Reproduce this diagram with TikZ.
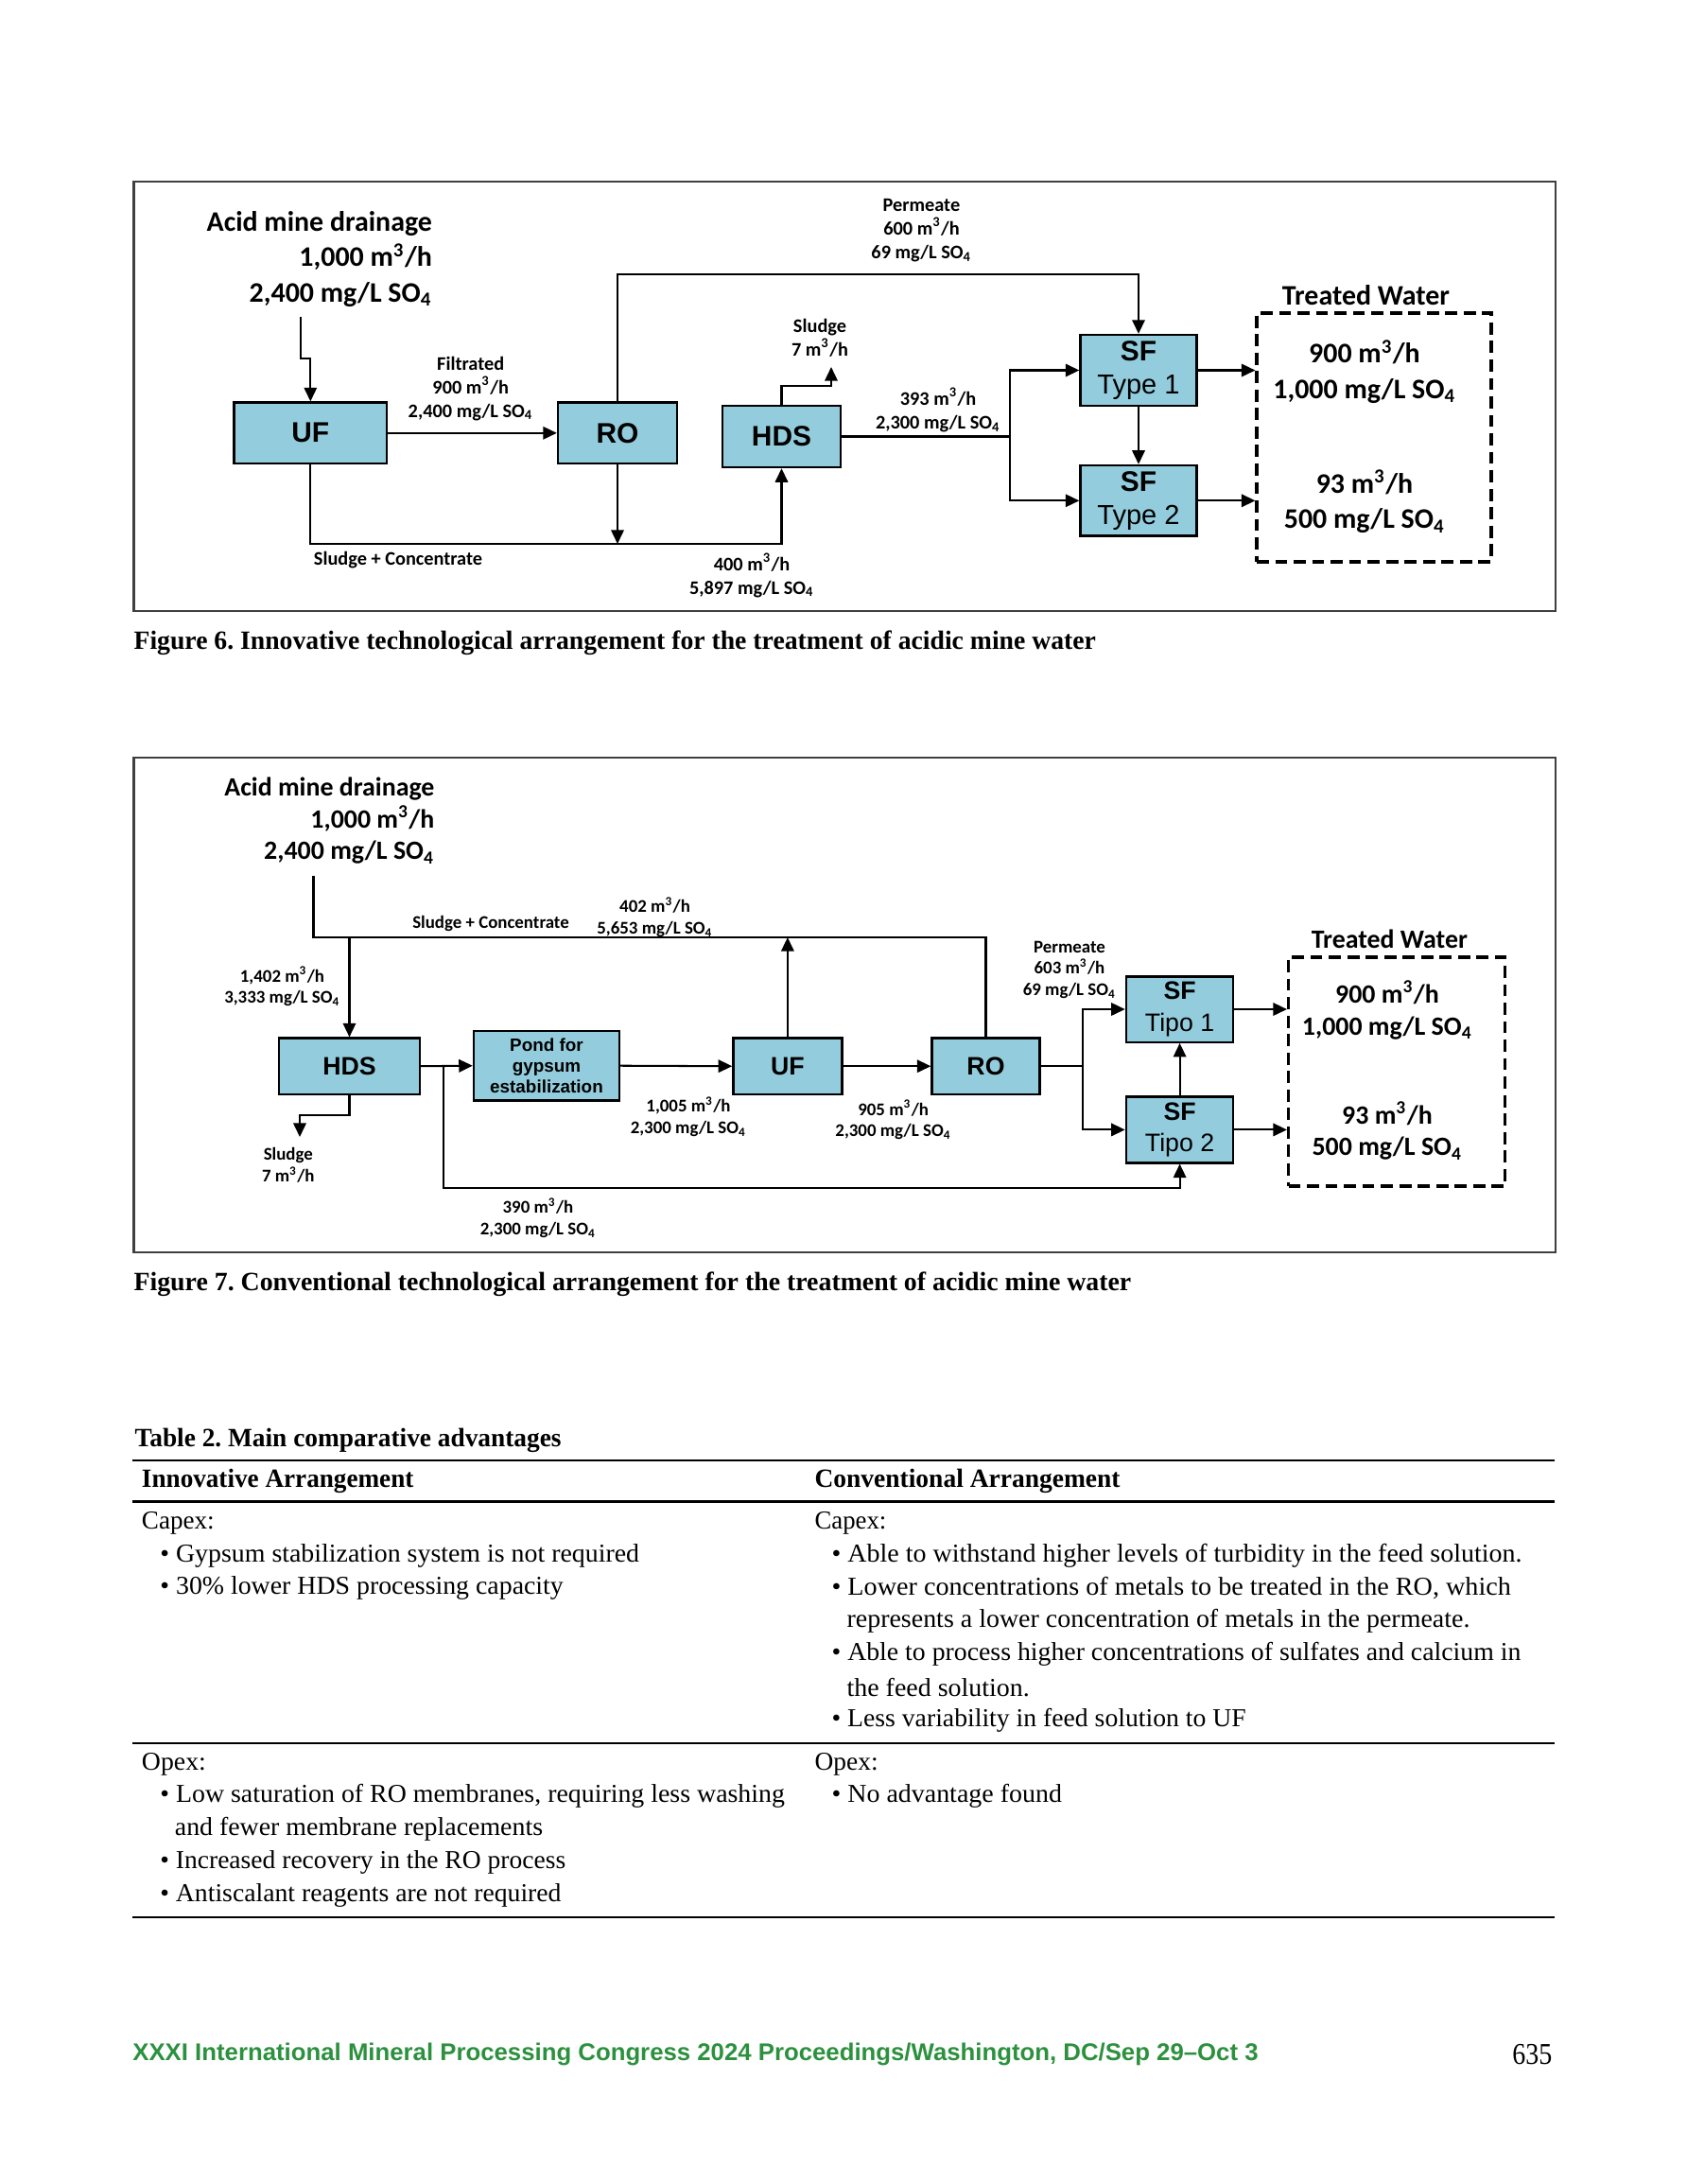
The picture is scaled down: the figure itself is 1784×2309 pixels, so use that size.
\documentclass[tikz,border=0pt]{standalone}
\usepackage{graphicx}
\usepackage{fontspec}
\setmainfont{Liberation Serif}
\newfontfamily\calfont{Carlito}
\newfontfamily\arfont{Liberation Sans}
\usetikzlibrary{arrows.meta}
\frenchspacing
\newcommand\fitw[2]{\resizebox{#1}{\height}{#2}}
\newcommand\myM{m\textsuperscript{3}/h}
\newcommand\mySO{SO\textsubscript{4}}
\definecolor{boxblue}{RGB}{147,205,221}
\definecolor{footgreen}{RGB}{44,145,62}
\begin{document}
\begin{tikzpicture}[x=0.34305bp, y=-0.34305bp,
  ln/.style={line width=0.7bp},
  arr/.style={line width=0.7bp, -{Triangle[length=5bp,width=4.6bp]}},
  bsize/.style 2 args={minimum width=#1*0.34305bp, minimum height=#2*0.34305bp},
  box/.style={draw=black, line width=0.8bp, fill=boxblue, inner sep=0pt, align=center},
  bxsix/.style={box, font=\arfont\bfseries\fontsize{10.3}{12.2}\selectfont},
  bxsev/.style={box, font=\arfont\bfseries\fontsize{9.2}{11.6}\selectfont},
  frame/.style={draw=black!75, line width=0.8bp},
  twbox/.style={draw=black, line width=1.05bp, dash pattern=on 4.4bp off 2.3bp, inner sep=0pt},
  ssix/.style={font=\calfont\bfseries\fontsize{7}{8.5}\selectfont, align=center, inner sep=0pt},
  bsix/.style={font=\calfont\bfseries\fontsize{10.3}{12.9}\selectfont, align=center, inner sep=0pt},
  ssev/.style={font=\calfont\bfseries\fontsize{6.5}{7.8}\selectfont, align=center, inner sep=0pt},
  bsev/.style={font=\calfont\bfseries\fontsize{9.6}{11.6}\selectfont, align=center, inner sep=0pt},
  tl/.style={anchor=west, inner sep=0pt, font=\fontsize{9.4}{11}\selectfont},
  tb/.style={anchor=west, inner sep=0pt, font=\bfseries\fontsize{9.6}{11}\selectfont},
  rule/.style={line width=0.75bp}
]
\useasboundingbox (0,0) rectangle (1784,2309);
\fill[white] (0,0) rectangle (1784,2309);

% ================= Figure 6 =================
\draw[frame] (141.5,192) rectangle (1645,646);

\node[bxsix, bsize={161.3}{64.5}] (uf6) at (328.3,457.8) {UF};
\node[bxsix, bsize={126}{64.5}] (ro6) at (653,457.8) {RO};
\node[bxsix, bsize={125}{65}] (hds6) at (826.5,461.5) {HDS};
\node[bxsix, bsize={123}{75}] (sf1) at (1204,391.5) {SF\\[0pt]{\mdseries\fontsize{10}{12.2}\selectfont Type 1}};
\node[bxsix, bsize={123}{74.7}] (sf2) at (1204,529.3) {SF\\[0pt]{\mdseries\fontsize{10}{12.2}\selectfont Type 2}};
\node[twbox, bsize={248}{263}] (tw6) at (1453,462.5) {};

\node[bsix, anchor=east, align=right] (amd6) at (457.5,274) {Acid mine drainage\\1,000 \myM\\2,400 mg/L \mySO};
\node[ssix] (filt6) at (497.7,410.9) {Filtrated\\900 \myM\\2,400 mg/L \mySO};
\node[ssix] (perm6) at (974.5,243.6) {Permeate\\600 \myM\\69 mg/L \mySO};
\node[ssix] (slud6) at (867,357) {Sludge\\7 \myM};
\node[ssix] (f3936) at (992,433.5) {393 \myM\\2,300 mg/L \mySO};
\node[ssix] (sc6) at (421,591.7) {Sludge + Concentrate};
\node[ssix] (f4006) at (795,608.3) {400 \myM\\5,897 mg/L \mySO};
\node[bsix] (twt6) at (1444.5,311.7) {Treated Water};
\node[bsix] (twa6) at (1443,393) {900 \myM\\1,000 mg/L \mySO};
\node[bsix] (twb6) at (1443,530.5) {93 \myM\\500 mg/L \mySO};

\coordinate (in6) at (318.4,335);
\coordinate (in6b) at (318.4,379);
\coordinate (t6) at (653,290);
\coordinate (j6) at (653,575);
\coordinate (sl6b) at (826.5,408.3);
\coordinate (sl6) at (879,388);
\coordinate (s6) at (1068,461.5);

\draw[arr] (in6) -- (in6b) -| (uf6.north);
\draw[arr] (uf6) -- (ro6);
\draw[arr] (ro6.north) -- (t6) -| (sf1.north);
\draw[arr] (ro6.south) -- (j6);
\draw[arr] (uf6.south) |- (j6) -| (hds6.south);
\draw[arr] (hds6.north) -- (sl6b) -| (sl6);
\draw[ln] (hds6.east) -- (s6);
\draw[arr] (s6) |- (sf1.west);
\draw[arr] (s6) |- (sf2.west);
\draw[arr] (sf1) -- (sf2);
\draw[arr] (sf1.east) -- (sf1.east -| tw6.west);
\draw[arr] (sf2.east) -- (sf2.east -| tw6.west);

\node[tb] (cap6) at (141,679.7) {\fitw{349bp}{Figure 6. Innovative technological arrangement for the treatment of acidic mine water}};

% ================= Figure 7 =================
\draw[frame] (141.5,800.7) rectangle (1645,1324);

\node[bxsev, bsize={149}{59.2}] (hds7) at (369.5,1127.2) {HDS};
\node[box, bsize={154}{73.4}, font=\arfont\bfseries\fontsize{6.5}{7.7}\selectfont] (pond) at (578,1126.7) {Pond for\\gypsum\\estabilization};
\node[bxsev, bsize={115}{59.2}] (uf7) at (832.9,1127.2) {UF};
\node[bxsev, bsize={114}{59.3}] (ro7) at (1042.5,1127.2) {RO};
\node[bxsev, bsize={113.4}{69.3}] (sft1) at (1247.6,1067) {SF\\[0pt]{\mdseries Tipo 1}};
\node[bxsev, bsize={113.4}{69.9}] (sft2) at (1247.6,1194.4) {SF\\[0pt]{\mdseries Tipo 2}};
\node[twbox, bsize={229}{242}] (tw7) at (1477,1133) {};

\node[bsev, anchor=east, align=right] (amd7) at (460,867.6) {Acid mine drainage\\1,000 \myM\\2,400 mg/L \mySO};
\node[ssev] (sc7) at (519,976.5) {Sludge + Concentrate};
\node[ssev] (f4027) at (692.6,969.4) {402 \myM\\5,653 mg/L \mySO};
\node[ssev] (f14027) at (298.5,1043.1) {1,402 \myM\\3,333 mg/L \mySO};
\node[ssev] (f10057) at (728,1180.8) {1,005 \myM\\2,300 mg/L \mySO};
\node[ssev] (f9057) at (944.7,1184.2) {905 \myM\\2,300 mg/L \mySO};
\node[ssev] (f3907) at (569,1287.7) {390 \myM\\2,300 mg/L \mySO};
\node[ssev] (slud7) at (304.8,1232) {Sludge\\7 \myM};
\node[ssev] (perm7) at (1131,1025.4) {Permeate\\603 \myM\\69 mg/L \mySO};
\node[bsev] (twt7) at (1469.4,992.7) {Treated Water};
\node[bsev] (twa7) at (1467,1068) {900 \myM\\1,000 mg/L \mySO};
\node[bsev] (twb7) at (1467,1195.8) {93 \myM\\500 mg/L \mySO};

\coordinate (in7) at (331.5,925.8);
\coordinate (tl7) at (331.5,991);
\coordinate (byp7) at (468.6,1127.2);
\coordinate (byp7b) at (468.6,1256.4);
\coordinate (s7) at (1145,1127.2);
\coordinate (hs7a) at (369.5,1179.3);
\coordinate (hs7) at (317,1202);

\draw[ln] (in7) -- (tl7) -| (ro7.north);
\draw[arr] (hds7.north |- tl7) -- (hds7.north);
\draw[arr] (uf7.north) -- (uf7.north |- tl7);
\draw[arr] (hds7.east) -- (pond.west);
\draw[arr] (byp7) -- (byp7b) -| (sft2.south);
\draw[arr] (pond.east) -- (uf7.west);
\draw[arr] (uf7.east) -- (ro7.west);
\draw[ln] (ro7.east) -- (s7);
\draw[arr] (s7) |- (sft1.west);
\draw[arr] (s7) |- (sft2.west);
\draw[arr] (sft2) -- (sft1);
\draw[arr] (sft1.east) -- (sft1.east -| tw7.west);
\draw[arr] (sft2.east) -- (sft2.east -| tw7.west);
\draw[arr] (hds7.south) -- (hs7a) -| (hs7);

\node[tb] (cap7) at (141,1358) {\fitw{361.8bp}{Figure 7. Conventional technological arrangement for the treatment of acidic mine water}};

% ================= Table 2 =================
\node[tb] (ttl) at (142,1523.2) {\fitw{154.7bp}{Table 2. Main comparative advantages}};
\draw[rule] (140,1543.6) -- (1644,1543.6);
\node[tb] (hl) at (149.4,1566) {\fitw{98.6bp}{Innovative Arrangement}};
\node[tb] (hr) at (861,1566) {\fitw{110.8bp}{Conventional Arrangement}};
\draw[rule] (140,1587.5) -- (1644,1587.5);

\node[tl] (lcap) at (149.4,1610.7) {\fitw{26.3bp}{Capex:}};
\node[tl] (l1) at (168.8,1644.6) {\fitw{173.8bp}{\textbullet\ Gypsum stabilization system is not required}};
\node[tl] (l2) at (168.8,1679.4) {\fitw{146.3bp}{\textbullet\ 30\% lower HDS processing capacity}};

\node[tl] (rcap) at (861,1610.7) {\fitw{26.0bp}{Capex:}};
\node[tl] (r1) at (879,1644.6) {\fitw{250.4bp}{\textbullet\ Able to withstand higher levels of turbidity in the feed solution.}};
\node[tl] (r2) at (879,1679.4) {\fitw{246.4bp}{\textbullet\ Lower concentrations of metals to be treated in the RO, which}};
\node[tl] (r3) at (895,1714.2) {\fitw{226.0bp}{represents a lower concentration of metals in the permeate.}};
\node[tl] (r4) at (879,1749) {\fitw{250.0bp}{\textbullet\ Able to process higher concentrations of sulfates and calcium in}};
\node[tl] (r5) at (895,1783.8) {\fitw{66.3bp}{the feed solution.}};
\node[tl] (r6) at (879,1818.6) {\fitw{150.3bp}{\textbullet\ Less variability in feed solution to UF}};

\draw[rule] (140,1842.9) -- (1644,1842.9);

\node[tl] (lopx) at (149.4,1865) {\fitw{23.3bp}{Opex:}};
\node[tl] (l3) at (168.8,1899.3) {\fitw{226.6bp}{\textbullet\ Low saturation of RO membranes, requiring less washing}};
\node[tl] (l4) at (184.3,1934.1) {\fitw{133.5bp}{and fewer membrane replacements}};
\node[tl] (l5) at (168.8,1968.9) {\fitw{147.1bp}{\textbullet\ Increased recovery in the RO process}};
\node[tl] (l6) at (168.8,2003.7) {\fitw{145.5bp}{\textbullet\ Antiscalant reagents are not required}};

\node[tl] (ropx) at (861,1865) {\fitw{23.0bp}{Opex:}};
\node[tl] (r7) at (879,1899.3) {\fitw{83.5bp}{\textbullet\ No advantage found}};

\draw[rule] (140,2026.8) -- (1644,2026.8);

% ================= Footer =================
\node[anchor=west, inner sep=0pt, text=footgreen, font=\arfont\bfseries\fontsize{8.8}{10}\selectfont] (foot) at (139.8,2171.7) {\fitw{408.3bp}{XXXI International Mineral Processing Congress 2024 Proceedings/Washington, DC/Sep 29–Oct 3}};
\node[anchor=east, inner sep=0pt, font=\fontsize{11}{12}\selectfont] (pg) at (1642,2171.7) {\fitw{14.4bp}{635}};
\end{tikzpicture}
\end{document}
